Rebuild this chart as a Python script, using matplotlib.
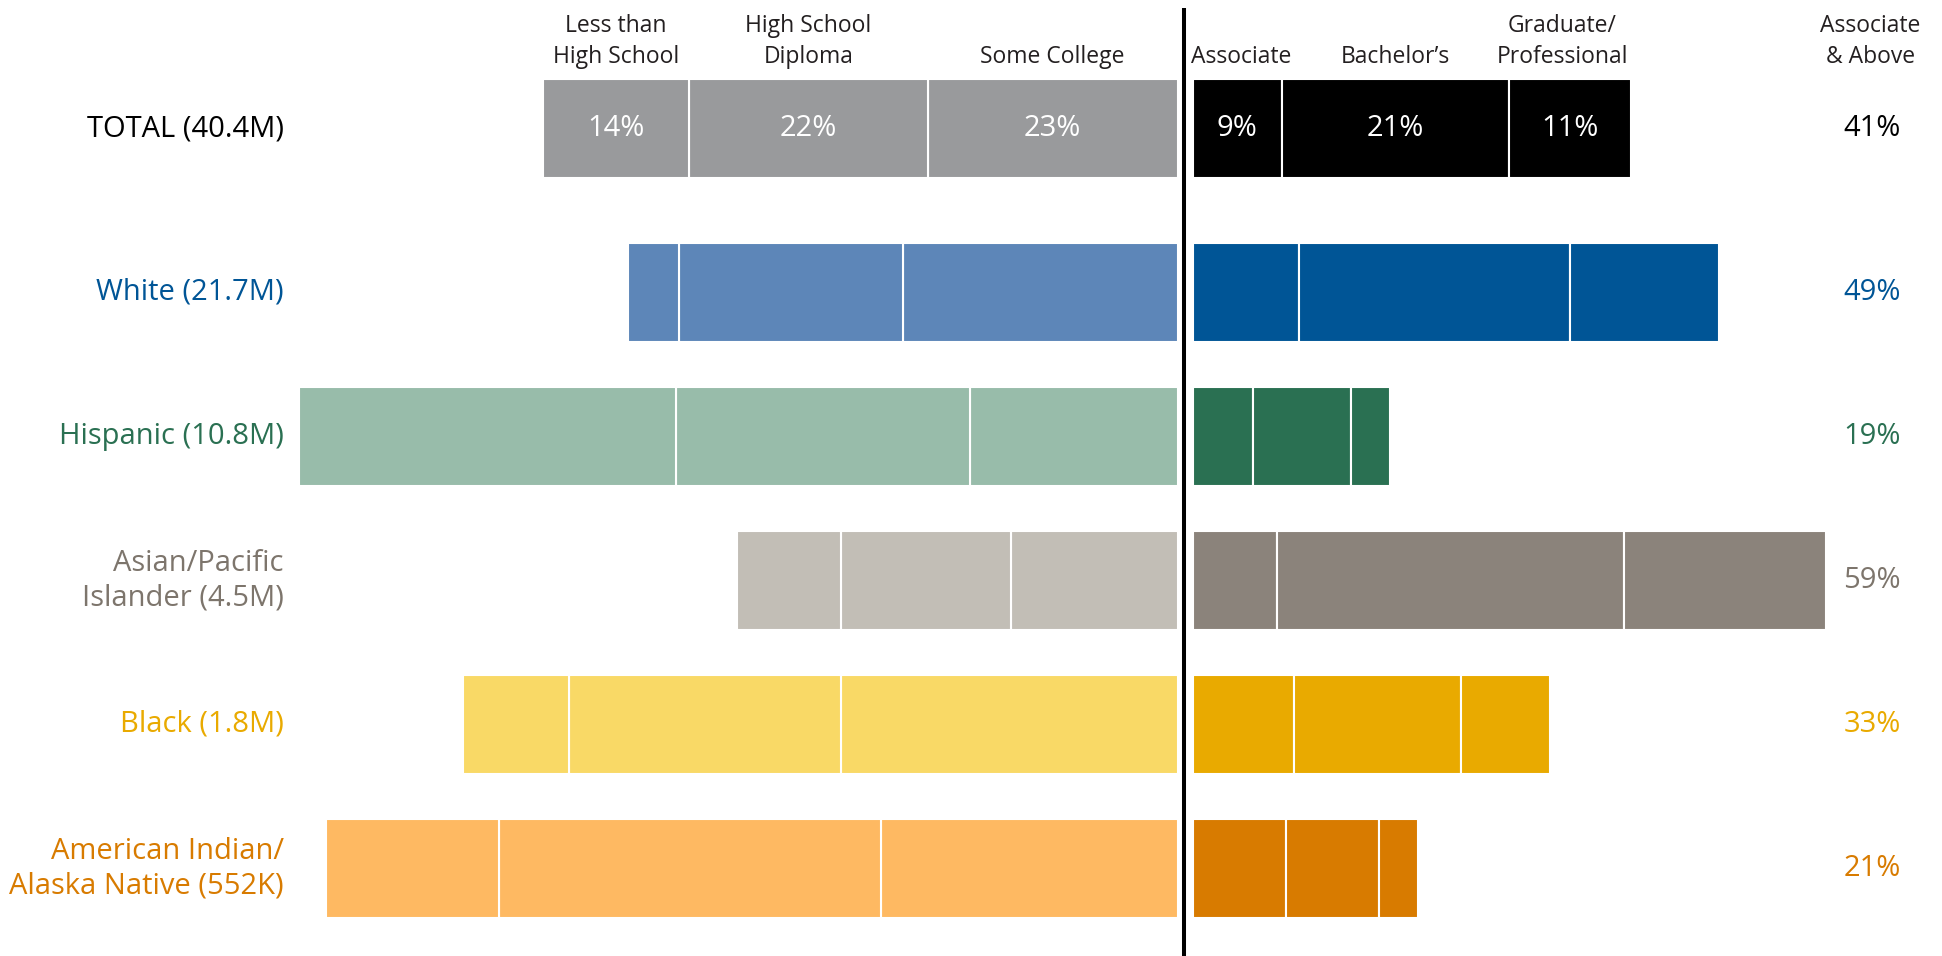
#学历分布：左右分向的堆叠条形图
import matplotlib.pyplot as plt

plt.rcParams['font.family'] = ['Open Sans', 'DejaVu Sans']

#数据
groups = ['TOTAL (40.4M)', 'White (21.7M)', 'Hispanic (10.8M)',
          'Asian/Pacific\nIslander (4.5M)', 'Black (1.8M)',
          'American Indian/\nAlaska Native (552K)']
below_heads = ['Less than\nHigh School', 'High School\nDiploma', 'Some College']
above_heads = ['Associate', 'Bachelor’s', 'Graduate/\nProfessional']
sum_head = 'Associate\n& Above'

#副学士以下（%）
less_hs = [13.6, 4.8, 35.2, 9.7, 9.9, 16.1]
hs_diploma = [22.3, 20.9, 27.4, 15.9, 25.4, 35.6]
some_college = [23.3, 25.6, 19.4, 15.5, 31.4, 27.7]
#副学士及以上（%）
associate = [8.3, 9.9, 5.6, 7.9, 9.5, 8.7]
bachelors = [21.2, 25.3, 9.2, 32.3, 15.5, 8.7]
graduate = [11.4, 13.9, 3.6, 18.9, 8.3, 3.6]

total_seg_labels = ['14%', '22%', '23%', '9%', '21%', '11%']
above_labels = ['41%', '49%', '19%', '59%', '33%', '21%']

#颜色
light_colors = ['#999a9c', '#5d86b8', '#98bcaa', '#c2beb6', '#f9d966', '#feb962']
dark_colors = ['#000000', '#005596', '#2a7052', '#8b837b', '#e9aa00', '#d87b00']
text_colors = ['#000000', '#005596', '#2a7052', '#7d756c', '#e9aa00', '#d87b00']

#画布
fig = plt.figure(figsize=(19.42, 9.56), dpi=100)
ax = fig.add_axes([0, 0, 1, 1])
px = 10.72  #每个百分点的像素
ax.set_xlim(-1184 / px, (1942 - 1184) / px)
ax.set_ylim(956, 0)
ax.axis('off')

ys = [128.5] + [292.5 + 144 * i for i in range(5)]
h = 99
gap_l = 0.6
gap_r = 0.8

for i in range(len(groups)):
    y = ys[i]
    #左边，从中线向外
    left_parts = [some_college[i], hs_diploma[i], less_hs[i]]
    cum = gap_l
    for w in left_parts:
        ax.barh(y, w, left=-cum - w, height=h, color=light_colors[i],
                edgecolor='white', linewidth=1.5)
        cum += w
    #右边
    right_parts = [associate[i], bachelors[i], graduate[i]]
    cum = gap_r
    for w in right_parts:
        ax.barh(y, w, left=cum, height=h, color=dark_colors[i],
                edgecolor='white', linewidth=1.5)
        cum += w
    #标签
    ax.text(-84.0, y, groups[i], ha='right', va='center', fontsize=21,
            color=text_colors[i], linespacing=1.25)
    ax.text(64.2, y, above_labels[i], ha='center', va='center', fontsize=21,
            color=text_colors[i])

#表头与总计百分比（按TOTAL行的位置）
left_total = [some_college[0], hs_diploma[0], less_hs[0]]
cum = gap_l
centers_left = []
for w in left_total:
    centers_left.append(-cum - w / 2)
    cum += w
centers_left = centers_left[::-1]
right_total = [associate[0], bachelors[0], graduate[0]]
cum = gap_r
centers_right = []
for w in right_total:
    centers_right.append(cum + w / 2)
    cum += w

centers = centers_left + centers_right
#表头在原图中的微调
head_shift = [0, 0, 0, 0.4, 0, -0.7]
heads = below_heads + above_heads
for j in range(6):
    ax.text(centers[j] + head_shift[j], 69, heads[j], ha='center', va='bottom',
            fontsize=16.5, color='#231f20', linespacing=1.4)
    ax.text(centers[j], ys[0], total_seg_labels[j], ha='center', va='center',
            fontsize=21, color='white')
ax.text(64.0, 69, sum_head, ha='center', va='bottom', fontsize=16.5,
        color='#231f20', linespacing=1.4)

#中线
ax.vlines(0, 8, 956, color='black', linewidth=2.9)

fig.savefig('out.png', dpi=100)
